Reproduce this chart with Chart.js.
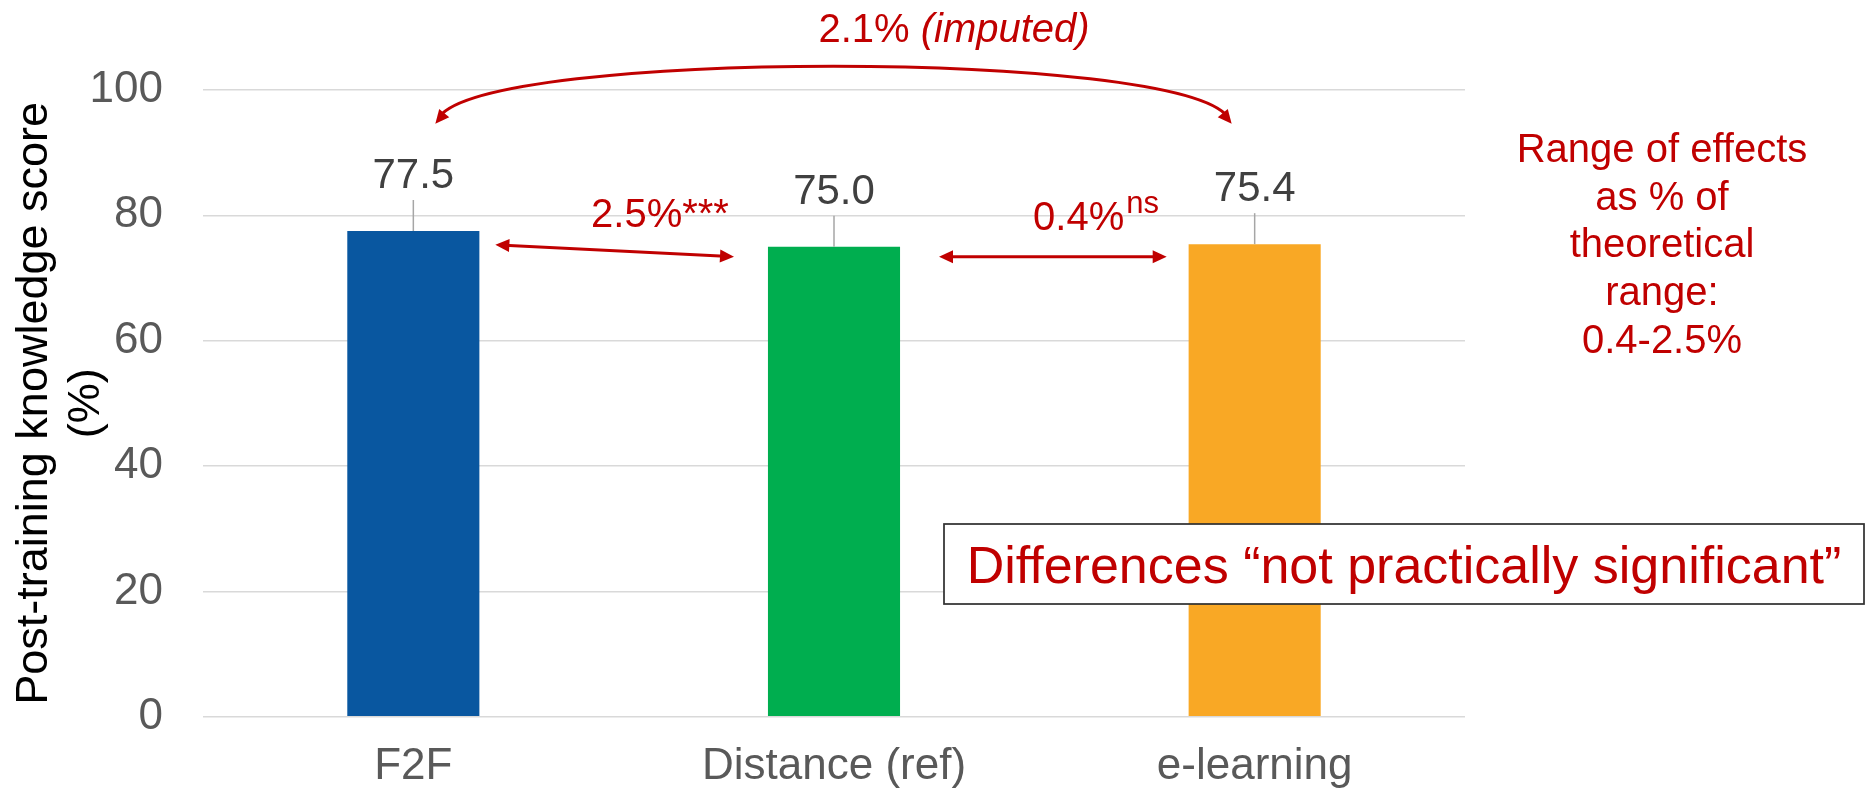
<!DOCTYPE html>
<html>
<head>
<meta charset="utf-8">
<script src="https://cdn.jsdelivr.net/npm/chart.js@4.4.1/dist/chart.umd.min.js"></script>
<style>
  html, body { margin: 0; padding: 0; background: #fff; }
  #wrap { width: 1868px; height: 794px; }
</style>
</head>
<body>
<div id="wrap"><canvas id="scoreChart" width="1868" height="794"></canvas></div>
<script>
// training modes and mean post-training knowledge score (%)
const modes = ['F2F', 'Distance (ref)', 'e-learning'];
const scores = [77.5, 75.0, 75.4];
const barColors = ['#0957A0', '#00AE4F', '#F9A825'];
const yTickValues = [0, 20, 40, 60, 80, 100];

// effect sizes between neighbouring modes
const pairEffects = ['2.5%', '0.4%'];
const pairMarks = ['***', 'ns'];
const imputedEffect = ['2.1% ', '(imputed)'];
const rangeNote = ['Range of effects', 'as % of', 'theoretical', 'range:', '0.4-2.5%'];
const boxNote = 'Differences \u201Cnot practically significant\u201D';

const RED = '#C00000';
const FONT = '"Liberation Sans", Arial, sans-serif';

function arrowHead(ctx, tipX, tipY, fromX, fromY) {
  const a = Math.atan2(tipY - fromY, tipX - fromX);
  const len = 14, half = 6.5;
  const bx = tipX - len * Math.cos(a), by = tipY - len * Math.sin(a);
  ctx.beginPath();
  ctx.moveTo(tipX, tipY);
  ctx.lineTo(bx + half * Math.sin(a), by - half * Math.cos(a));
  ctx.lineTo(bx - half * Math.sin(a), by + half * Math.cos(a));
  ctx.closePath();
  ctx.fill();
}

// straight line with heads on both ends
function doubleArrow(ctx, x1, y1, x2, y2) {
  const a = Math.atan2(y2 - y1, x2 - x1);
  const cut = 9;
  ctx.beginPath();
  ctx.moveTo(x1 + cut * Math.cos(a), y1 + cut * Math.sin(a));
  ctx.lineTo(x2 - cut * Math.cos(a), y2 - cut * Math.sin(a));
  ctx.stroke();
  arrowHead(ctx, x1, y1, x2, y2);
  arrowHead(ctx, x2, y2, x1, y1);
}

const notesPlugin = {
  id: 'notes',
  afterDatasetsDraw(chart) {
    const ctx = chart.ctx;
    const xs = chart.scales.x, ys = chart.scales.y;
    const bars = chart.getDatasetMeta(0).data;
    const xc = i => xs.getPixelForValue(i);
    const yv = v => ys.getPixelForValue(v);
    ctx.save();

    // value labels with short leader lines
    bars.forEach((bar, i) => {
      ctx.strokeStyle = '#A6A6A6';
      ctx.lineWidth = 1.5;
      ctx.beginPath();
      ctx.moveTo(bar.x, bar.y);
      ctx.lineTo(bar.x, bar.y - 31);
      ctx.stroke();
      ctx.fillStyle = '#404040';
      ctx.font = '42px ' + FONT;
      ctx.textAlign = 'center';
      ctx.textBaseline = 'alphabetic';
      ctx.fillText(scores[i].toFixed(1), bar.x, bar.y - 43);
    });

    ctx.strokeStyle = RED;
    ctx.fillStyle = RED;
    ctx.lineWidth = 3;

    // F2F <-> Distance, Distance <-> e-learning
    doubleArrow(ctx, xc(0) + 82, yv(75.3), xc(1) - 100, yv(73.4));
    doubleArrow(ctx, xc(1) + 105, yv(73.4), xc(2) - 88, yv(73.4));

    // curved arrow F2F <-> e-learning
    const p0 = [xc(0) + 22, yv(94.6)], p3 = [xc(2) - 23, yv(94.6)];
    const p1 = [p0[0] + 55, yv(106.5)], p2 = [p3[0] - 55, yv(106.5)];
    ctx.beginPath();
    ctx.moveTo(p0[0] + 4, p0[1] - 7);
    ctx.bezierCurveTo(p1[0], p1[1], p2[0], p2[1], p3[0] - 4, p3[1] - 7);
    ctx.stroke();
    arrowHead(ctx, p0[0], p0[1], p1[0] - 10, p1[1] + 20);
    arrowHead(ctx, p3[0], p3[1], p2[0] + 10, p2[1] + 20);

    // effect labels
    ctx.textAlign = 'left';
    ctx.textBaseline = 'alphabetic';
    ctx.font = '40px ' + FONT;
    const w = ctx.measureText(pairEffects[0] + pairMarks[0]).width;
    ctx.fillText(pairEffects[0] + pairMarks[0], 660 - w / 2, yv(78.1));

    const mw = ctx.measureText(pairEffects[1]).width;
    ctx.font = '31px ' + FONT;
    const sw = ctx.measureText(pairMarks[1]).width;
    const sx = 1096 - (mw + sw + 2) / 2;
    ctx.font = '40px ' + FONT;
    ctx.fillText(pairEffects[1], sx, yv(77.7));
    ctx.font = '31px ' + FONT;
    ctx.fillText(pairMarks[1], sx + mw + 2, yv(80.4));

    // imputed effect on top
    ctx.font = '40px ' + FONT;
    const w1 = ctx.measureText(imputedEffect[0]).width;
    ctx.font = 'italic 40px ' + FONT;
    const w2 = ctx.measureText(imputedEffect[1]).width;
    const tx = 954 - (w1 + w2) / 2;
    ctx.font = '40px ' + FONT;
    ctx.fillText(imputedEffect[0], tx, 42);
    ctx.font = 'italic 40px ' + FONT;
    ctx.fillText(imputedEffect[1], tx + w1, 42);

    // range note on the right
    ctx.font = '40px ' + FONT;
    ctx.textAlign = 'center';
    rangeNote.forEach((line, i) => ctx.fillText(line, 1662, 162 + i * 47.7));

    // boxed conclusion
    ctx.fillStyle = '#fff';
    ctx.fillRect(944, 524, 920, 80);
    ctx.strokeStyle = '#333333';
    ctx.lineWidth = 1.75;
    ctx.strokeRect(944, 524, 920, 80);
    ctx.fillStyle = RED;
    ctx.font = '52px ' + FONT;
    ctx.fillText(boxNote, 1404, 583, 890);

    ctx.restore();
  }
};

new Chart(document.getElementById('scoreChart'), {
  type: 'bar',
  data: {
    labels: modes,
    datasets: [{
      data: scores,
      backgroundColor: barColors,
      borderWidth: 0,
      barPercentage: 0.314,
      categoryPercentage: 1
    }]
  },
  options: {
    responsive: false,
    animation: false,
    devicePixelRatio: 1,
    layout: { padding: { top: 90, right: 403, left: 0, bottom: 0 } },
    plugins: { legend: { display: false }, tooltip: { enabled: false } },
    scales: {
      x: {
        grid: { display: false, drawTicks: false },
        border: { display: false },
        ticks: { color: '#595959', font: { family: FONT, size: 44 }, padding: 24 },
        afterFit(scale) { scale.height = 77.3; }
      },
      y: {
        min: 0,
        max: 100,
        afterBuildTicks(scale) { scale.ticks = yTickValues.map(v => ({ value: v })); },
        grid: { color: '#D9D9D9', lineWidth: 1.5, drawTicks: false },
        border: { display: false },
        ticks: { color: '#595959', font: { family: FONT, size: 44 }, padding: 40 },
        title: {
          display: true,
          text: ['Post-training knowledge score', '(%)'],
          color: '#000',
          font: { family: FONT, size: 45, lineHeight: 1.15 },
          padding: { top: 9, bottom: 0 }
        },
        afterFit(scale) { scale.width = 203; }
      }
    }
  },
  plugins: [notesPlugin]
});
</script>
</body>
</html>
